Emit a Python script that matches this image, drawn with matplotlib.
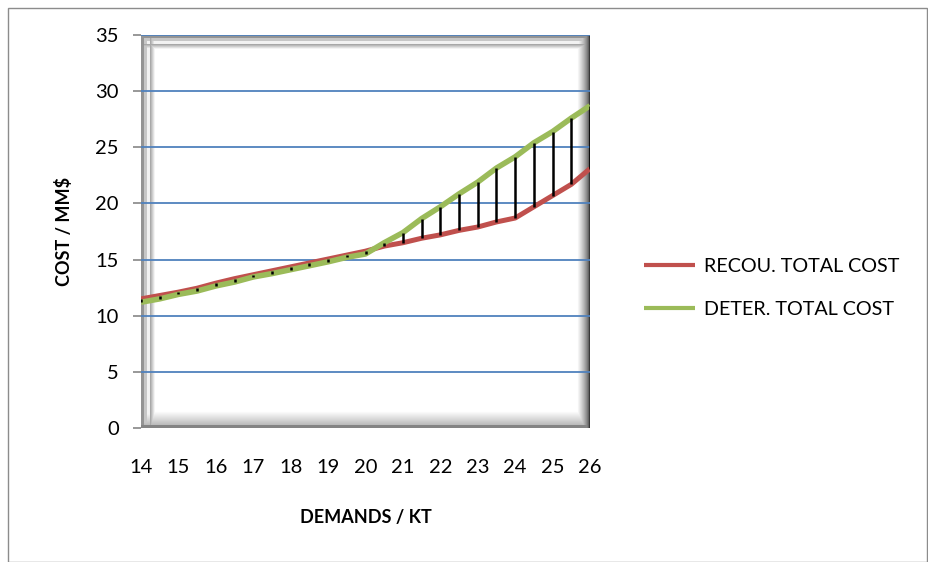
import numpy as np
import matplotlib
matplotlib.use('Agg')
import matplotlib.pyplot as plt
from matplotlib.patches import Rectangle

plt.rcParams['font.family'] = ['Lato', 'DejaVu Sans']

# 데이터
demand = [14, 14.5, 15, 15.5, 16, 16.5, 17, 17.5, 18, 18.5, 19, 19.5, 20,
          20.5, 21, 21.5, 22, 22.5, 23, 23.5, 24, 24.5, 25, 25.5, 26]
recou_cost = [11.5, 11.8, 12.1, 12.45, 12.9, 13.3, 13.65, 14.0, 14.35, 14.7, 15.05, 15.4, 15.75,
              16.2, 16.5, 16.9, 17.2, 17.6, 17.9, 18.35, 18.7, 19.7, 20.7, 21.7, 23.1]
deter_cost = [11.2, 11.5, 11.9, 12.2, 12.65, 13.0, 13.45, 13.75, 14.1, 14.45, 14.8, 15.2, 15.5,
              16.5, 17.4, 18.65, 19.7, 20.85, 21.9, 23.15, 24.15, 25.4, 26.4, 27.6, 28.7]
x_ticks = list(range(14, 27))
y_ticks = list(range(0, 36, 5))

W, H = 929, 562
fig = plt.figure(figsize=(W / 100, H / 100), dpi=100)
fig.patches.append(Rectangle((8 / W, 0), (W - 10) / W, (H - 8) / H, transform=fig.transFigure,
                             fill=False, edgecolor='#8c8c8c', lw=1.0))

ax_l, ax_r, ax_t, ax_b = 141, 590, 35, 428
ax = fig.add_axes([ax_l / W, 1 - ax_b / H, (ax_r - ax_l) / W, (ax_b - ax_t) / H])

# 3D 베벨 테두리 흉내
pw, ph = ax_r - ax_l, ax_b - ax_t
xx, yy = np.meshgrid(np.arange(pw), np.arange(ph))
dl, dr, dt, db = xx, pw - 1 - xx, yy, ph - 1 - yy


def prof_lt(d):
    v = np.ones_like(d, dtype=float)
    v = np.where(d < 14, 0.66 + (d - 9) * 0.075, v)
    v = np.where(d < 9, 0.95, v)
    v = np.where(d < 6, 0.78, v)
    v = np.where(d < 3, 0.58, v)
    return np.clip(v, 0, 1)


def prof_r(d):
    return np.clip(0.22 + 0.78 * (d / 12.0) ** 0.6, 0, 1)


def prof_b(d):
    v = np.where(d < 16, 0.74 + 0.26 * (d - 3) / 13, 1.0)
    v = np.where(d < 3, 0.52, v)
    return np.clip(v, 0, 1)


shade = np.minimum.reduce([prof_lt(dl), prof_lt(dt), prof_r(dr), prof_b(db)])
img = np.dstack([shade, shade, shade])
ax.imshow(img, extent=[14, 26, 0, 35], aspect='auto', zorder=0, interpolation='bilinear')

for yv in y_ticks[1:]:
    ax.axhline(yv, color='#4F81BD', lw=1.3, zorder=1)

ax.plot(demand, recou_cost, color='#C0504D', lw=3.6, zorder=2, label='RECOU. TOTAL COST',
        solid_capstyle='butt')
ax.plot(demand, deter_cost, color='#9BBB59', lw=4.0, zorder=3, label='DETER. TOTAL COST',
        solid_capstyle='butt')
ax.vlines(demand, recou_cost, deter_cost, color='black', lw=1.8, zorder=4)

ax.set_xlim(14, 26)
ax.set_ylim(0, 35)
ax.set_xticks(x_ticks)
ax.set_yticks(y_ticks)
for s in ax.spines.values():
    s.set_visible(False)
ax.tick_params(axis='x', length=0, pad=22, labelsize=14.5)
ax.tick_params(axis='y', length=6, width=1.2, color='#868686', pad=10, labelsize=14.5)

ax.set_xlabel('DEMANDS / KT', fontsize=13, fontweight='bold', labelpad=24)
ax.set_ylabel('COST / MM$', fontsize=13, fontweight='bold', labelpad=16)

leg = ax.legend(loc='center left', bbox_to_anchor=(626 / W, 1 - 288 / H), bbox_transform=fig.transFigure,
                frameon=False, fontsize=14.2, handlelength=2.6, handletextpad=0.45, labelspacing=1.35)
for ln in leg.get_lines():
    ln.set_linewidth(3.0)

fig.savefig('out.png', dpi=100)
